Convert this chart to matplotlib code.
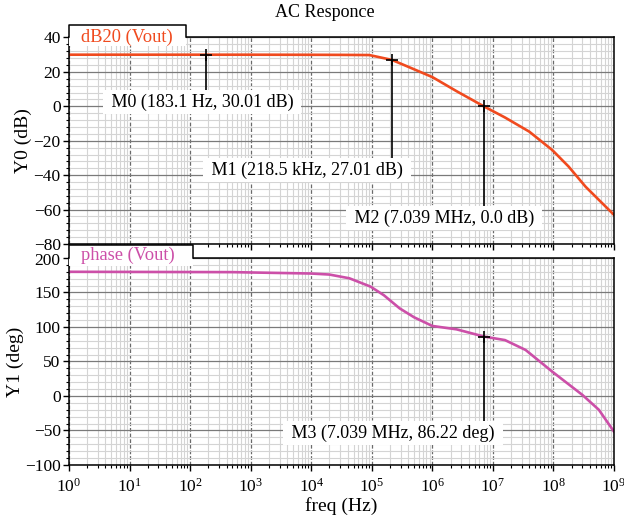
import matplotlib
matplotlib.use('Agg')
import matplotlib.pyplot as plt
from matplotlib.ticker import MultipleLocator, FixedLocator, NullFormatter, LogFormatterSciNotation
from matplotlib.patches import Polygon
from matplotlib.transforms import ScaledTranslation

plt.rcParams['font.family'] = ['Liberation Serif', 'DejaVu Serif']
plt.rcParams['mathtext.fontset'] = 'custom'
plt.rcParams['mathtext.rm'] = 'Liberation Serif'
plt.rcParams['mathtext.it'] = 'Liberation Serif:italic'
plt.rcParams['font.size'] = 12

# magnitude curve
mag_freq = [1, 1e3, 1e4, 10**4.5, 10**4.96, 10**5.33, 10**5.6, 10**6.0, 10**6.4,
            10**6.85, 10**7.2, 10**7.6, 10**7.98, 10**8.25, 10**8.53, 1e9]
mag_db = [30.01, 30.0, 29.95, 29.9, 29.8, 27.0, 23.0, 17.0, 8.8,
          0.0, -6.5, -14.7, -25.4, -35.0, -46.7, -63.1]

# phase curve
ph_freq = [1, 500, 1e4, 10**4.3, 10**4.63, 10**4.98, 10**5.2, 10**5.46, 10**5.7,
           1e6, 10**6.4, 10**6.85, 10**7.2, 10**7.54, 10**7.98, 10**8.48, 10**8.75, 1e9]
ph_deg = [180, 179.5, 177.5, 176, 170.6, 158.5, 146, 127, 114,
          101.5, 96.6, 86.2, 81, 66.7, 35.3, 1.4, -20, -51.7]

# decade ticks and minor ticks
decades = [10.0 ** k for k in range(0, 10)]
minor_ticks = [m * d for d in decades[:-1] for m in range(2, 10)]

# markers: (freq, value, label, label x, label y)
markers_top = [
    (183.1, 30.01, "M0 (183.1 Hz, 30.01 dB)", 158, 2.5),
    (218.5e3, 27.01, "M1 (218.5 kHz, 27.01 dB)", 8.5e3, -37),
    (7.039e6, 0.0, "M2 (7.039 MHz, 0.0 dB)", 1.58e6, -65),
]
markers_bot = [
    (7.039e6, 86.22, "M3 (7.039 MHz, 86.22 deg)", 2.24e5, -53.6),
]

RED = '#f04a1e'
MAG = '#cc4fa8'

fig = plt.figure(figsize=(6.24, 5.23), dpi=100)
ax1 = fig.add_axes([0.1106, 0.5335, 0.8734, 0.3948])
ax2 = fig.add_axes([0.1106, 0.1109, 0.8734, 0.3958])


def style_axis(ax, ylim, major, minor):
    ax.set_xscale('log')
    ax.set_xlim(1, 1e9)
    ax.set_ylim(*ylim)
    ax.yaxis.set_major_locator(MultipleLocator(major))
    ax.yaxis.set_minor_locator(MultipleLocator(minor))
    ax.xaxis.set_major_locator(FixedLocator(decades))
    ax.xaxis.set_major_formatter(LogFormatterSciNotation())
    ax.xaxis.set_minor_locator(FixedLocator(minor_ticks))
    ax.xaxis.set_minor_formatter(NullFormatter())
    ax.grid(which='minor', color='#d4d4d4', linewidth=0.8)
    ax.grid(which='major', axis='y', color='#7a7a7a', linewidth=0.9)
    ax.grid(which='major', axis='x', color='#6a6a6a', linewidth=0.9, linestyle=(0, (3, 1.5)))
    ax.set_axisbelow(True)
    ax.tick_params(which='major', direction='out', length=4, width=1, labelsize=12.5, pad=2)
    ax.tick_params(axis='x', which='major', pad=5)
    ax.tick_params(which='minor', direction='out', length=2, width=0.8)
    for s in ax.spines.values():
        s.set_linewidth(1.1)


def draw_tab(ax, text, color, xr, h, ty):
    # white tab sticking out above the frame
    cover = Polygon([(0, 1 - 0.04), (0, 1 + h), (xr, 1 + h), (xr, 1 - 0.04)],
                    closed=True, transform=ax.transAxes, facecolor='white',
                    edgecolor='none', clip_on=False, zorder=5)
    ax.add_patch(cover)
    ax.plot([0, 0, xr, xr], [1, 1 + h, 1 + h, 1], transform=ax.transAxes,
            color='black', linewidth=1.1, clip_on=False, zorder=6)
    ax.text(0.022, ty, text, transform=ax.transAxes, color=color, fontsize=13.3,
            va='center', ha='left', zorder=7, clip_on=False)


def draw_markers(ax, markers):
    for f, v, lab, lx, ly in markers:
        ax.plot([f, f], [v, ly], color='black', linewidth=1.2, zorder=3)
        ax.plot([f], [v], marker='+', color='black', markersize=8, mew=1.2, zorder=4)
        ax.text(lx, ly, ' ' + lab + ' ', ha='center', va='center', fontsize=13, zorder=4,
                bbox=dict(boxstyle='square,pad=0.2', facecolor='white', edgecolor='none'))


style_axis(ax1, (-80, 40), 20, 4)
ax1.plot(mag_freq, mag_db, color=RED, linewidth=1.9, zorder=2)
draw_markers(ax1, markers_top)
ax1.tick_params(labelbottom=False)
ax1.set_ylabel('Y0 (dB)', fontsize=14, labelpad=1)
draw_tab(ax1, 'dB20 (Vout)', RED, 0.2147, 0.0605, 1.0)

style_axis(ax2, (-100, 200), 50, 10)
ax2.plot(ph_freq, ph_deg, color=MAG, linewidth=1.9, zorder=2)
draw_markers(ax2, markers_bot)
ax2.set_ylabel('Y1 (deg)', fontsize=14, labelpad=1)
ax2.set_xlabel('freq (Hz)', fontsize=14, labelpad=1)
draw_tab(ax2, 'phase (Vout)', MAG, 0.2275, 0.064, 1.015)

# nudge the two crowded y labels at the panel join apart a little
fig.canvas.draw()
ax1.get_yticklabels()[0].set_transform(
    ax1.get_yticklabels()[0].get_transform() + ScaledTranslation(0, 2 / 72, fig.dpi_scale_trans))
for lab in ax2.get_yticklabels():
    if lab.get_text().endswith('200'):
        lab.set_transform(lab.get_transform() + ScaledTranslation(0, -1 / 72, fig.dpi_scale_trans))

fig.text(0.521, 0.977, 'AC Responce', ha='center', va='center', fontsize=13)

fig.savefig('out.png', dpi=100)
